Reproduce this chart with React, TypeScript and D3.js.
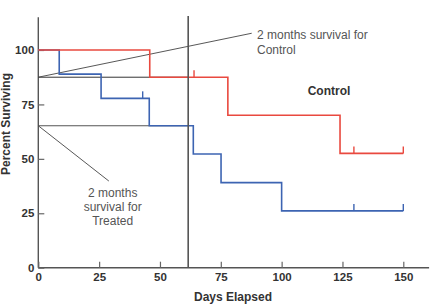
import * as React from 'react';
import * as d3 from 'd3';

const W = 434;
const H = 305;

const xTicks = [0, 25, 50, 75, 100, 125, 150];
const yTicks = [0, 25, 50, 75, 100];

// Kaplan-Meier steps (day the step starts, survival %)
const controlDays = [0, 45.8, 77.9, 124];
const controlSurv = [100, 87.5, 70, 52.5];
const controlCensorDays = [64, 129.7, 150];

const treatedDays = [0, 8.6, 25.8, 45.6, 63.7, 75.1, 100];
const treatedSurv = [100, 88.9, 77.8, 65.2, 52.2, 39.1, 26.1];
const treatedCensorDays = [42.9, 129.7, 150];

const lastDay = 150;
const twoMonths = 61.6;

const font = '"Liberation Sans", Arial, Helvetica, sans-serif';

const x = d3.scaleLinear().domain([0, 150]).range([38.3, 403.3]);
const y = d3.scaleLinear().domain([0, 100]).range([267.7, 50]);

const stepLine = d3.line<[number, number]>()
    .x(d => x(d[0]))
    .y(d => y(d[1]))
    .curve(d3.curveStepAfter);

const survAt = (days: number[], surv: number[], t: number) => {
    let v = surv[0];
    days.forEach((d, i) => { if (t >= d) v = surv[i]; });
    return v;
};

const Curve = ({ days, surv, censor, color }: { days: number[]; surv: number[]; censor: number[]; color: string }) => {
    const pts: [number, number][] = days.map((d, i) => [d, surv[i]] as [number, number]);
    pts.push([lastDay, surv[surv.length - 1]]);
    return (
        <g>
            <path d={stepLine(pts) ?? ''} fill="none" stroke={color} strokeWidth={1.6} />
            {censor.map((c, i) => {
                const v = survAt(days, surv, c);
                return <line key={i} x1={x(c)} x2={x(c)} y1={y(v)} y2={y(v) - 7} stroke={color} strokeWidth={1.4} />;
            })}
        </g>
    );
};

export default function App() {
    const xAxisRef = React.useRef<SVGGElement>(null);
    const yAxisRef = React.useRef<SVGGElement>(null);

    React.useEffect(() => {
        const xa = d3.select(xAxisRef.current!)
            .call(d3.axisBottom(x).tickValues(xTicks).tickSizeInner(-6).tickSizeOuter(0).tickPadding(5));
        const ya = d3.select(yAxisRef.current!)
            .call(d3.axisLeft(y).tickValues(yTicks).tickSizeInner(-6).tickSizeOuter(0).tickPadding(4));
        [xa, ya].forEach(a => {
            a.select('.domain').remove();
            a.selectAll('line').attr('stroke', '#666').attr('stroke-width', 1.2);
            a.selectAll('text')
                .attr('fill', '#333')
                .style('font-family', font)
                .style('font-size', '11.5px')
                .style('font-weight', 'bold');
        });
    }, []);

    return (
        <svg width={W} height={H} style={{ position: 'absolute', left: 0, top: 0, background: '#fff' }}>
            {/* axes lines */}
            <line x1={x(0)} x2={x(0)} y1={y(0)} y2={y(115)} stroke="#555" strokeWidth={1.4} />
            <line x1={x(0)} x2={x(160.6)} y1={y(0)} y2={y(0)} stroke="#555" strokeWidth={1.4} />
            <g ref={xAxisRef} transform={`translate(0,${y(0)})`} />
            <g ref={yAxisRef} transform={`translate(${x(0)},0)`} />

            {/* two-month reference lines */}
            <line x1={x(0)} x2={x(twoMonths)} y1={y(87.5)} y2={y(87.5)} stroke="#333" strokeWidth={1} />
            <line x1={x(0)} x2={x(twoMonths)} y1={y(65.2)} y2={y(65.2)} stroke="#555" strokeWidth={1} />
            <line x1={x(0)} x2={x(87.7)} y1={y(87.5)} y2={y(107.7)} stroke="#444" strokeWidth={0.9} />
            <line x1={x(0)} x2={x(29)} y1={y(65.2)} y2={y(39.8)} stroke="#444" strokeWidth={0.9} />

            <Curve days={treatedDays} surv={treatedSurv} censor={treatedCensorDays} color="#3d64b2" />
            <Curve days={controlDays} surv={controlSurv} censor={controlCensorDays} color="#e9493f" />

            <line x1={x(twoMonths)} x2={x(twoMonths)} y1={y(0)} y2={y(115.6)} stroke="#555" strokeWidth={1.6} />

            <g style={{ fontFamily: font, fontSize: 12 }} fill="#555">
                <text x={257} y={38.5}>2 months survival for</text>
                <text x={257} y={53.5}>Control</text>
                <text x={112.7} y={196.5} textAnchor="middle">2 months</text>
                <text x={112.7} y={210.8} textAnchor="middle">survival for</text>
                <text x={112.7} y={225} textAnchor="middle">Treated</text>
            </g>
            <g style={{ fontFamily: font, fontSize: 12, fontWeight: 'bold' }} fill="#333">
                <text x={329} y={95.3} textAnchor="middle">Control</text>
                <text x={233} y={301.3} textAnchor="middle">Days Elapsed</text>
                <text transform="translate(10,124) rotate(-90)" textAnchor="middle">Percent Surviving</text>
            </g>
        </svg>
    );
}
